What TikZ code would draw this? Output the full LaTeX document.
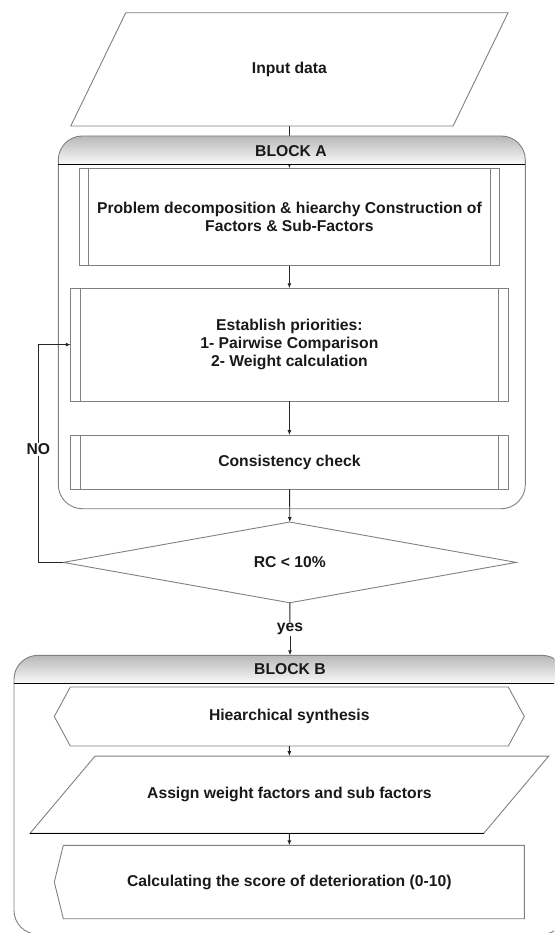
\documentclass[tikz,border=0pt]{standalone}
\usepackage{fontspec}
\setmainfont{Liberation Sans}
\usetikzlibrary{arrows.meta}
\usetikzlibrary{calc}
\usetikzlibrary{backgrounds}

\begin{document}
\begin{tikzpicture}[
	x=1pt, y=-1pt,
	every node/.style={font=\bfseries\fontsize{15.7}{18}\selectfont, align=center, text=black!90},
	> = {Latex[length=5pt,width=4pt]},
	outline/.style = {draw=black!50, line width=0.9pt},
	area/.style = {inner sep=0pt, outer sep=0pt},
	process/.style = {area, outline},
	block/.style = {area, outline, rounded corners=24pt},
	header/.style = {top color=black!28, bottom color=black!2},
	link/.style = {draw=black!85, line width=0.9pt},
	tag/.style = {fill=white, inner sep=1pt}
	]
	\useasboundingbox (0,0) rectangle (554,933);
	\clip (0,0) rectangle (554,933);

	% the two blocks
	\node[block, minimum width=467, minimum height=372.7] (blockA) at (291.8,322.35) {};
	\node[block, minimum width=552, minimum height=279] (blockB) at (290,794.8) {};
	\draw[link, draw=black] ([yshift=-28.3pt]blockA.north west) -- ([yshift=-28.3pt]blockA.north east);
	\draw[link, draw=black] ([yshift=-28pt]blockB.north west) -- ([yshift=-28pt]blockB.north east);
	\node (titleA) at (291,150.7) {BLOCK A};
	\node (titleB) at (290,668.7) {BLOCK B};

	% block A
	\node[area, minimum width=437.3, minimum height=113.3] (input) at (289.4,69.4) {Input data};
	\draw[outline] ($(input.north west)+(55,0)$) -- (input.north east) -- ($(input.south east)-(55,0)$) -- (input.south west) -- cycle;

	\node[process, minimum width=420.7, minimum height=97.4] (prob) at (289.4,217) {Problem decomposition \& hiearchy Construction of\\Factors \& Sub-Factors};
	\node[process, minimum width=437.3, minimum height=112.7] (prio) at (289.4,344.6) {Establish priorities:\\1- Pairwise Comparison\\2- Weight calculation};
	\node[process, minimum width=437.3, minimum height=54.3] (cons) at (289.4,462.2) {Consistency check};
	\foreach \n/\d in {prob/9.3, prio/9.6, cons/9.6} {
		\draw[outline] ($(\n.north west)+(\d,0)$) -- ($(\n.south west)+(\d,0)$);
		\draw[outline] ($(\n.north east)-(\d,0)$) -- ($(\n.south east)-(\d,0)$);
	}

	\node[area, minimum width=453, minimum height=80.7] (rc) at (289.8,562.4) {RC < 10\%};
	\draw[outline] (rc.north) -- (rc.east) -- (rc.south) -- (rc.west) -- cycle;

	% block B
	\node[area, minimum width=470, minimum height=59] (hier) at (289.3,716.5) {Hiearchical synthesis};
	\draw[outline] (hier.west) -- ($(hier.north west)+(16,0)$) -- ($(hier.north east)-(16,0)$) -- (hier.east) -- ($(hier.south east)-(16,0)$) -- ($(hier.south west)+(16,0)$) -- cycle;

	\node[area, minimum width=518.7, minimum height=77.3] (assign) at (289.4,794.7) {Assign weight factors and sub factors};
	\draw[outline] ($(assign.north west)+(65,0)$) -- (assign.north east) -- ($(assign.south east)-(65,0)$) -- (assign.south west) -- cycle;
	\draw[link, draw=black] (assign.south west) -- ($(assign.south east)-(65,0)$);

	\node[area, minimum width=470, minimum height=73.4] (score) at (289.3,882) {Calculating the score of deterioration (0-10)};
	\draw[outline] (score.west) -- ($(score.north west)+(9,0)$) -- (score.north east) -- (score.south east) -- ($(score.south west)+(9,0)$) -- cycle;

	% connectors
	\node[tag] (no) at (38.3,449.3) {NO};
	\node[tag] (yes) at (290,629.3) {yes};

	\draw[link,->] (prob) -- (prio);
	\draw[link,->] (prio) -- (cons);
	\draw[link,->] (cons) -- (rc.north);
	\draw[link,->] (rc.west) -| (no) |- (prio.west);
	\draw[link] (rc.south) -- (yes);
	\draw[link,->] (yes) -- (blockB.north);
	\draw[link,->] (hier) -- (assign);
	\draw[link,->] (assign) -- (score);

	% header shading, behind everything
	\begin{scope}[on background layer]
		\draw[link,->] (input) -- (prob);
		\foreach \b in {blockA, blockB} {
			\begin{scope}
				\clip[rounded corners=24pt] (\b.north west) rectangle (\b.south east);
				\shade[header] (\b.north west) rectangle ([yshift=-28.3pt]\b.north east);
			\end{scope}
		}
	\end{scope}

\end{tikzpicture}
\end{document}
